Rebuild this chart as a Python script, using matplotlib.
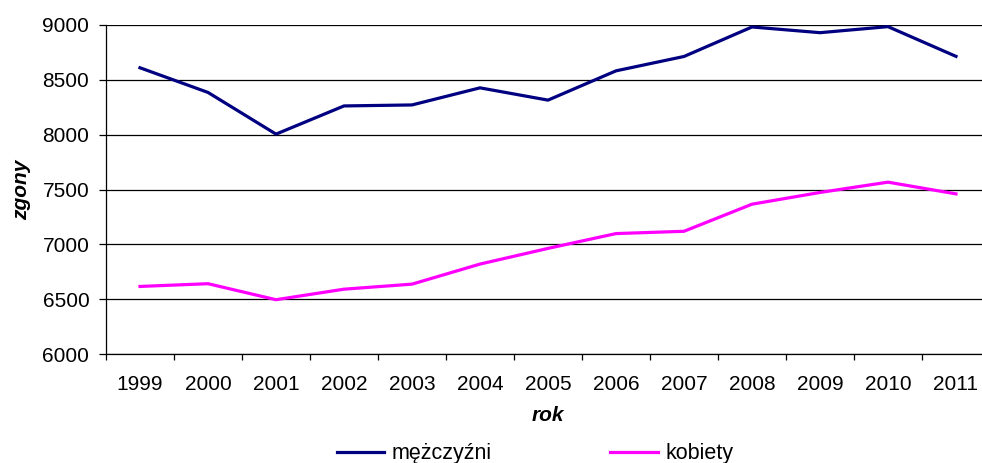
import matplotlib
matplotlib.use('Agg')
import matplotlib.pyplot as plt
import numpy as np

plt.rcParams['font.family'] = ['Liberation Sans', 'DejaVu Sans']

# dane
lata = ['1999', '2000', '2001', '2002', '2003', '2004', '2005',
        '2006', '2007', '2008', '2009', '2010', '2011']
mezczyzni = [8610, 8385, 8005, 8262, 8271, 8427, 8315,
             8582, 8713, 8982, 8930, 8985, 8714]
kobiety = [6616, 6641, 6495, 6591, 6637, 6820, 6963,
           7098, 7119, 7366, 7473, 7567, 7460]

W, H = 982, 463
FS = 15
fig = plt.figure(figsize=(W / 100, H / 100), dpi=100)
ax = fig.add_axes([106 / W, 1 - 354 / H, 884 / W, 329 / H])

x = np.arange(len(lata))
ax.plot(x, mezczyzni, color='#000080', lw=2.3, label='mężczyźni', solid_joinstyle='miter')
ax.plot(x, kobiety, color='#FF00FF', lw=2.3, label='kobiety', solid_joinstyle='miter')

ax.set_xlim(-0.5, len(lata) - 0.5)
ax.set_ylim(6000, 9000)
ax.set_yticks(np.arange(6000, 9001, 500))
ax.yaxis.grid(True, color='black', lw=0.9)
ax.set_axisbelow(True)

ax.set_xticks(x)
ax.set_xticklabels(lata)
ax.set_xticks(np.arange(-0.5, len(lata)), minor=True)
ax.tick_params(axis='x', which='major', length=0, pad=15, labelsize=FS)
ax.tick_params(axis='x', which='minor', length=4.5, width=0.9, direction='out')
ax.tick_params(axis='y', length=5, width=0.9, pad=7, labelsize=FS)

for s in ['top', 'right']:
    ax.spines[s].set_visible(False)
for s in ['left', 'bottom']:
    ax.spines[s].set_linewidth(0.9)

ax.set_xlabel('rok', fontsize=FS, fontweight='bold', fontstyle='italic', labelpad=9)
ax.set_ylabel('zgony', fontsize=FS, fontweight='bold', fontstyle='italic', labelpad=8)

fig.legend(loc='center', bbox_to_anchor=(0.545, 0.02), ncol=2, frameon=False,
           fontsize=FS + 0.5, handlelength=2.2, columnspacing=5.5, handletextpad=0.35)

fig.savefig('out.png', dpi=100)
